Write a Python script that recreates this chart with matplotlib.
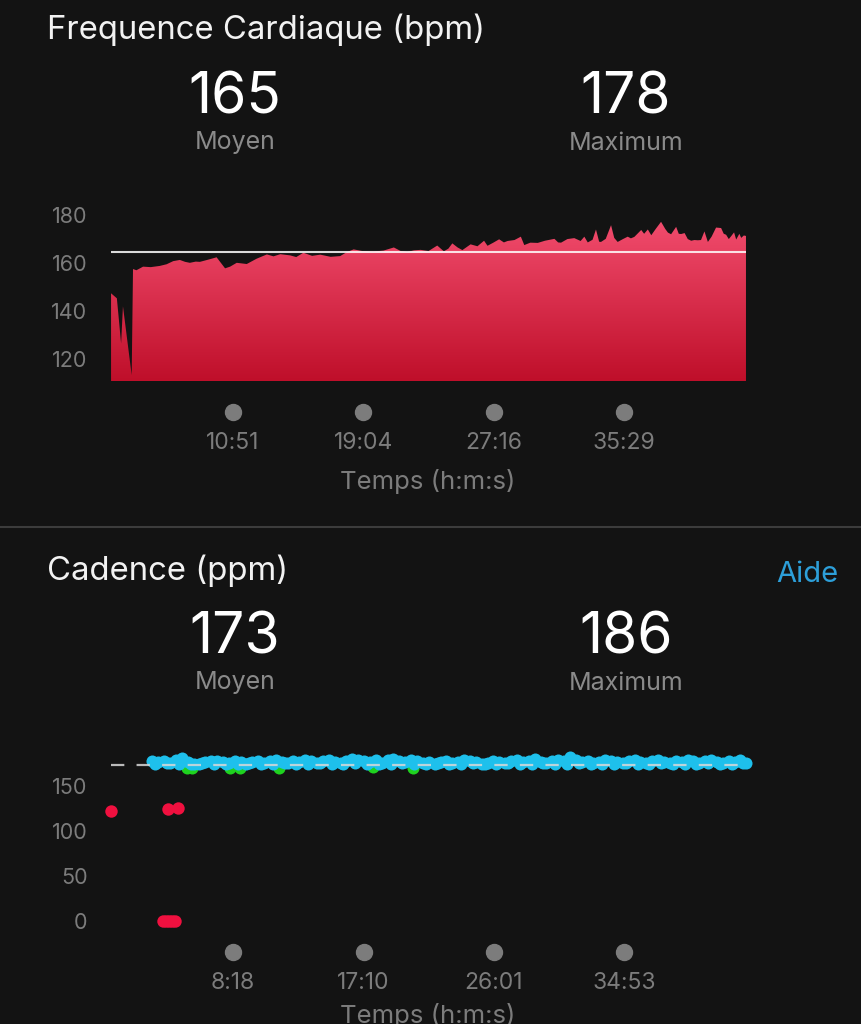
import numpy as np
import matplotlib
matplotlib.use("Agg")
import matplotlib.pyplot as plt
from matplotlib.colors import LinearSegmentedColormap
from matplotlib.transforms import blended_transform_factory

plt.rcParams['font.family'] = ['Inter', 'DejaVu Sans']

# heart rate (time in seconds, bpm)
hr_sec = [190, 212, 228, 235, 268, 273, 286, 311, 340, 374, 400, 425, 450, 470, 488, 510,
          526, 560, 589, 621, 640, 665, 703, 740, 779, 804, 830, 867, 890, 917, 950, 981,
          1020, 1056, 1080, 1107, 1140, 1183, 1220, 1259, 1285, 1309, 1335, 1360, 1390, 1423,
          1448, 1465, 1480, 1500, 1518, 1549, 1575, 1600, 1613, 1635, 1657, 1675, 1689, 1715,
          1739, 1752, 1775, 1803, 1830, 1866, 1880, 1891, 1915, 1941, 1965, 1979, 1992, 2010,
          2023, 2035, 2042, 2060, 2080, 2092, 2105, 2125, 2143, 2155, 2168, 2194, 2205, 2219,
          2232, 2250, 2269, 2285, 2295, 2307, 2326, 2336, 2345, 2358, 2370, 2383, 2395, 2408,
          2420, 2433, 2446, 2460, 2477, 2496, 2506, 2515, 2525, 2534, 2545, 2553, 2565, 2572,
          2582, 2590]
hr_bpm = [147.4, 145.3, 126.5, 142.0, 113.3, 157.5, 157.0, 158.5, 158.3, 158.8, 159.5, 160.8,
          161.3, 160.5, 160.1, 160.6, 160.5, 161.5, 162.4, 157.8, 158.5, 160.1, 159.6, 161.8,
          163.6, 162.8, 163.7, 163.2, 162.5, 164.3, 163.0, 163.5, 162.6, 162.9, 164.5, 165.7,
          165.0, 164.8, 165.2, 166.5, 165.0, 164.6, 165.3, 165.5, 165.0, 167.3, 164.9, 166.0,
          168.2, 166.5, 165.4, 167.8, 167.0, 169.3, 167.2, 168.5, 169.9, 168.6, 169.2, 169.6,
          171.0, 167.5, 168.5, 168.4, 169.3, 170.1, 168.6, 168.5, 170.0, 170.4, 169.2, 171.0,
          168.6, 169.7, 174.0, 168.9, 168.8, 170.1, 175.8, 170.5, 168.8, 170.0, 171.0, 170.3,
          170.9, 173.8, 172.2, 174.0, 171.6, 174.4, 177.2, 174.2, 172.7, 172.0, 175.1, 172.2,
          172.1, 172.5, 170.0, 169.3, 169.6, 169.5, 169.6, 173.2, 168.8, 171.0, 174.8, 174.6,
          172.2, 171.8, 170.0, 171.2, 172.8, 169.8, 172.2, 170.5, 171.5, 171.3]
hr_avg, hr_max = 165, 178
hr_yticks = [120, 140, 160, 180]
hr_xticks = [651, 1144, 1636, 2129]
hr_xlabels = ["10:51", "19:04", "27:16", "35:29"]

# cadence (time in seconds, steps per minute)
cad_blue_sec = [168, 192, 216, 240, 264, 288, 312, 336, 360, 384, 408, 432, 456, 480, 504, 528,
                552, 576, 600, 624, 648, 672, 696, 720, 744, 768, 792, 816, 840, 864, 888, 912,
                936, 960, 984, 1008, 1032, 1056, 1080, 1104, 1128, 1152, 1176, 1200, 1224, 1248,
                1272, 1296, 1320, 1344, 1368, 1392, 1416, 1440, 1464, 1488, 1512, 1536, 1560,
                1584, 1608, 1632, 1656, 1680, 1704, 1728, 1752, 1776, 1800, 1824, 1848, 1872,
                1896, 1920, 1944, 1968, 1992, 2016, 2040, 2064, 2088, 2112, 2136, 2160, 2184,
                2208, 2232, 2256, 2280, 2304, 2328, 2352, 2376, 2400, 2424, 2448, 2472, 2496,
                2520, 2544, 2568, 2592]
cad_blue = [178, 177, 178, 176, 179, 181, 177, 175, 174, 177,
            178, 178, 177, 176, 178, 177, 175, 177, 178, 176,
            178, 179, 177, 176, 178, 177, 179, 178, 176, 178,
            179, 177, 176, 178, 180, 179, 178, 177, 179, 176,
            179, 180, 178, 177, 179, 178, 176, 177, 175, 177,
            178, 176, 177, 179, 178, 177, 175, 176, 178, 177,
            176, 178, 179, 177, 178, 180, 177, 176, 178, 179,
            178, 182, 179, 177, 178, 176, 177, 179, 178, 177,
            176, 178, 179, 177, 176, 178, 179, 177, 176, 178,
            177, 179, 178, 176, 178, 179, 177, 176, 178, 177, 179, 176]
# second row of cadence samples, offset in time, which thickens the band
cad_blue2_sec = [180, 228, 276, 324, 372, 420, 468, 516, 564, 612, 660, 708, 756, 804, 852,
                 900, 948, 996, 1044, 1092, 1140, 1188, 1236, 1284, 1332, 1380, 1428, 1476,
                 1524, 1572, 1620, 1668, 1716, 1764, 1812, 1860, 1908, 1956, 2004, 2052, 2100,
                 2148, 2196, 2244, 2292, 2340, 2388, 2436, 2484, 2532, 2580]
cad_blue2 = [175, 176, 175, 174, 176, 175, 174, 175, 176, 174, 175, 176, 174, 175, 176,
             175, 174, 176, 175, 174, 175, 176, 175, 174, 176, 175, 175, 176, 174, 175,
             176, 174, 175, 176, 175, 174, 176, 175, 174, 175, 176, 175, 174, 176, 175,
             174, 175, 176, 175, 174, 176]
cad_green_sec = [309, 331, 486, 527, 683, 1070, 1233]
cad_green = [170, 170, 170, 170, 170, 171, 170]
cad_red_sec = [0, 233, 274, 212, 225, 237, 249, 262]
cad_red = [122, 124, 126, 0, 0, 0, 0, 0]
cad_avg, cad_max = 173, 186
cad_yticks = [0, 50, 100, 150]
cad_xticks = [498, 1030, 1561, 2093]
cad_xlabels = ["8:18", "17:10", "26:01", "34:53"]

BG = "#131313"
GREY = "#7c7c7c"
W, H = 862, 1024

fig = plt.figure(figsize=(W / 100, H / 100), dpi=100, facecolor=BG)


def px(x, y):
    return x / W, 1 - y / H


def add_ax(left, top, right, bottom):
    ax = fig.add_axes([left / W, 1 - bottom / H, (right - left) / W, (bottom - top) / H])
    ax.set_facecolor(BG)
    for s in ax.spines.values():
        s.set_visible(False)
    ax.tick_params(axis='y', length=0, pad=17, labelsize=15.5, labelcolor=GREY)
    ax.tick_params(axis='x', length=0, labelbottom=False)
    return ax


def header(title, avg, mx, ytitle, ynum, ylab):
    fig.text(*px(47, ytitle), title, color="#f2f2f2", fontsize=23.7, va='center', ha='left')
    for xc, val, lab in [(235, avg, "Moyen"), (626, mx, "Maximum")]:
        fig.text(*px(xc, ynum), str(val), color="white", fontsize=41, ha='center', va='center')
        fig.text(*px(xc, ylab), lab, color="#8a8a8a", fontsize=18, ha='center', va='center')


def time_axis(ax, ticks, labels, ydot, ylab, ytitle):
    tr = blended_transform_factory(ax.transData, fig.transFigure)
    ax.plot(ticks, [1 - ydot / H] * len(ticks), 'o', color=GREY, markersize=11.5,
            transform=tr, clip_on=False)
    for t, lab in zip(ticks, labels):
        ax.text(t, 1 - ylab / H, lab, transform=tr, color=GREY, fontsize=16.5,
                ha='center', va='center')
    fig.text(*px(428, ytitle), "Temps (h:m:s)", color=GREY, fontsize=18.5, ha='center', va='center')


# ---- heart rate panel
header("Frequence Cardiaque (bpm)", hr_avg, hr_max, 30, 99, 143)
ax1 = add_ax(111, 205, 746, 381)
ylo, yhi = 110.83, 184.2
poly = ax1.fill_between(hr_sec, ylo, hr_bpm, facecolor='none', edgecolor='none')
cmap = LinearSegmentedColormap.from_list("hr", ["#bf0f2a", "#f24d6e"])
grad = np.linspace(0, 1, 256).reshape(-1, 1)
img = ax1.imshow(grad, extent=[hr_sec[0], hr_sec[-1], ylo, 178], aspect='auto',
                 cmap=cmap, origin='lower', zorder=1)
img.set_clip_path(poly.get_paths()[0], transform=ax1.transData)
ax1.axhline(hr_avg - 0.3, color="white", lw=1.5, alpha=0.85, zorder=3)
ax1.set_xlim(189.8, 2590.1)
ax1.set_ylim(ylo, yhi)
ax1.set_yticks(hr_yticks)
time_axis(ax1, hr_xticks, hr_xlabels, 412, 443, 481)

# separator
fig.add_artist(plt.Line2D([0, 1], [1 - 527 / H] * 2, color="#3c3c3c", lw=1.5))

# ---- cadence panel
header("Cadence (ppm)", cad_avg, cad_max, 571, 638, 683)
fig.text(*px(838, 574), "Aide", color="#2d9fd9", fontsize=21, ha='right', va='center')
ax2 = add_ax(111, 745, 748, 932)
ax2.scatter(cad_red_sec, cad_red, s=80, color="#f0103f", linewidths=0, clip_on=False, zorder=2)
ax2.scatter(cad_green_sec, cad_green, s=75, color="#1fd21f", linewidths=0, clip_on=False, zorder=2)
ax2.scatter(cad_blue2_sec, cad_blue2, s=75, color="#1ec0ec", linewidths=0, clip_on=False, zorder=3)
ax2.scatter(cad_blue_sec, cad_blue, s=75, color="#1ec0ec", linewidths=0, clip_on=False, zorder=3)
ax2.axhline(cad_avg, color="#d8d8d8", lw=1.6, dashes=(6, 5.5), alpha=0.85, zorder=4)
ax2.set_xlim(-0.7, 2598.7)
ax2.set_ylim(-12.2, 195.6)
ax2.set_yticks(cad_yticks)
time_axis(ax2, cad_xticks, cad_xlabels, 952, 983, 1015)

fig.savefig("out.png", dpi=100, facecolor=BG)
